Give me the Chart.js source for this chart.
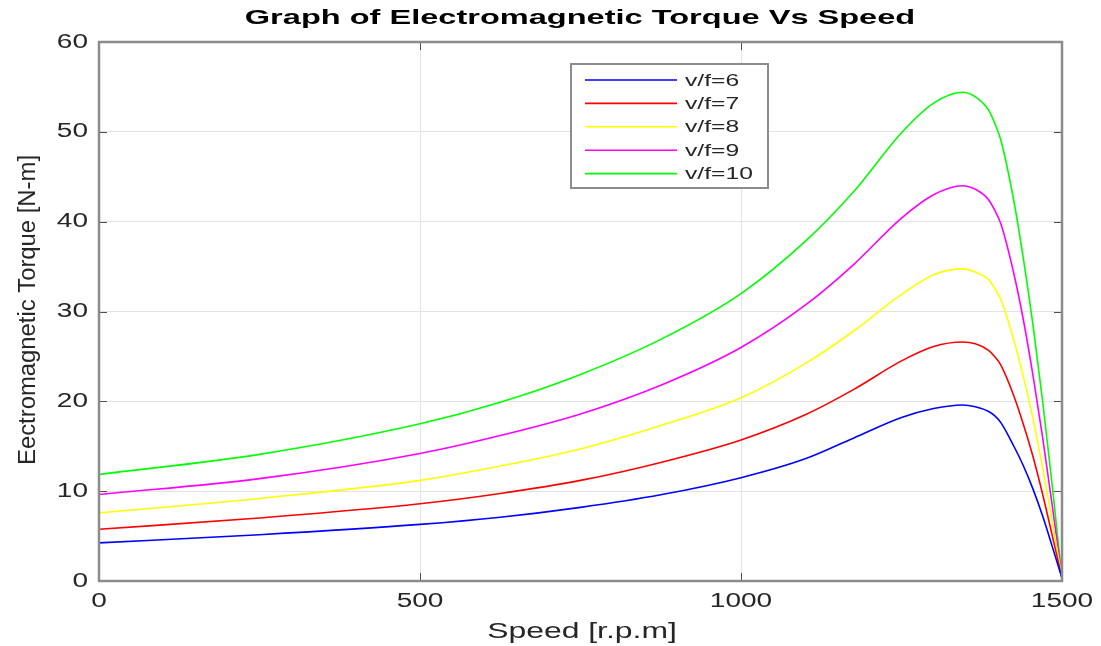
<!DOCTYPE html>
<html>
<head>
<meta charset="utf-8">
<script src="https://cdn.jsdelivr.net/npm/chart.js@4"></script>
<style>
  html, body { margin: 0; padding: 0; background: #fff; }
  canvas { display: block; }
</style>
</head>
<body>
<canvas id="torque" width="1101" height="646"></canvas>
<script>
// speed points (rpm)
const speed = [0, 250, 500, 625, 750, 875, 1000, 1100, 1175, 1250, 1300, 1345, 1365, 1385, 1395, 1405, 1425, 1440, 1455, 1470, 1485, 1500];

// torque [N-m] per v/f ratio
const vf6  = [4.24, 5.15, 6.3, 7.1, 8.2, 9.6, 11.5, 13.6, 15.9, 18.2, 19.2, 19.6, 19.4, 18.9, 18.4, 17.6, 15.0, 12.8, 10.2, 7.2, 3.8, 0.3];
const vf7  = [5.76, 7.02, 8.6, 9.74, 11.2, 13.2, 15.7, 18.5, 21.3, 24.5, 26.1, 26.6, 26.4, 25.7, 25.0, 24.0, 20.6, 17.4, 13.8, 9.6, 5.0, 0.3];
const vf8  = [7.58, 9.19, 11.2, 12.8, 14.7, 17.3, 20.4, 24.2, 27.8, 31.9, 34.1, 34.75, 34.4, 33.6, 32.6, 31.3, 26.8, 22.7, 18.0, 12.5, 6.5, 0.3];
const vf9  = [9.63, 11.4, 14.2, 16.2, 18.6, 21.8, 26.0, 30.7, 35.2, 40.4, 43.0, 44.0, 43.6, 42.5, 41.3, 39.7, 34.2, 29.0, 22.8, 15.9, 8.3, 0.3];
const vf10 = [11.86, 14.1, 17.5, 19.9, 23.0, 26.9, 32.0, 37.8, 43.3, 49.9, 53.2, 54.4, 53.9, 52.5, 51.0, 49.0, 42.3, 35.8, 28.4, 19.9, 10.5, 0.3];

const seriesNames = ['v/f=6', 'v/f=7', 'v/f=8', 'v/f=9', 'v/f=10'];
const seriesData = [vf6, vf7, vf8, vf9, vf10];
const seriesColors = ['#0000ff', '#ff0000', '#ffff00', '#ff00ff', '#00ff00'];

const xTicks = [0, 500, 1000, 1500];
const yTicks = [0, 10, 20, 30, 40, 50, 60];

const FONT = '"Liberation Sans", Arial, Helvetica, sans-serif';
const STRETCH = 1.4; // the source figure is stretched sideways

const datasets = seriesData.map((vals, i) => ({
  label: seriesNames[i],
  data: vals.map((v, j) => ({ x: speed[j], y: v })),
  borderColor: seriesColors[i],
  backgroundColor: seriesColors[i],
  borderWidth: 1.6,
  pointRadius: 0,
  cubicInterpolationMode: 'monotone',
  fill: false
}));

// text squeezed/stretched horizontally
function wideText(ctx, txt, x, y, font, sx, align) {
  ctx.save();
  ctx.font = font;
  ctx.textBaseline = 'middle';
  ctx.textAlign = 'left';
  const w = ctx.measureText(txt).width * sx;
  let x0 = x;
  if (align === 'center') x0 = x - w / 2;
  if (align === 'right') x0 = x - w;
  ctx.translate(x0, y);
  ctx.scale(sx, 1);
  ctx.fillText(txt, 0, 0);
  ctx.restore();
}

// title, axis labels, tick labels, legend box, frame + inward ticks
const decor = {
  id: 'decor',
  afterDraw(chart) {
    const ctx = chart.ctx;
    const a = chart.chartArea;
    const xs = chart.scales.x, ys = chart.scales.y;
    ctx.save();

    // inward ticks
    ctx.strokeStyle = '#4d4d4d';
    ctx.lineWidth = 1;
    xTicks.forEach(t => {
      const px = Math.round(xs.getPixelForValue(t)) + 0.5;
      ctx.beginPath();
      ctx.moveTo(px, a.bottom); ctx.lineTo(px, a.bottom - 8);
      ctx.moveTo(px, a.top); ctx.lineTo(px, a.top + 8);
      ctx.stroke();
    });
    yTicks.forEach(t => {
      const py = Math.round(ys.getPixelForValue(t)) + 0.5;
      ctx.beginPath();
      ctx.moveTo(a.left, py); ctx.lineTo(a.left + 8, py);
      ctx.moveTo(a.right, py); ctx.lineTo(a.right - 8, py);
      ctx.stroke();
    });

    // frame
    ctx.strokeStyle = '#8c8c8c';
    ctx.lineWidth = 2.5;
    ctx.strokeRect(a.left, a.top, a.right - a.left, a.bottom - a.top);

    // tick labels
    ctx.fillStyle = '#262626';
    xTicks.forEach(t => {
      wideText(ctx, String(t), xs.getPixelForValue(t), 601, '20px ' + FONT, STRETCH, 'center');
    });
    yTicks.forEach(t => {
      wideText(ctx, String(t), 88, ys.getPixelForValue(t), '20px ' + FONT, STRETCH, 'right');
    });

    // title
    ctx.fillStyle = '#000';
    wideText(ctx, 'Graph of Electromagnetic Torque Vs Speed', 580, 18, 'bold 21px ' + FONT, 1.55, 'center');

    // x label
    ctx.fillStyle = '#262626';
    wideText(ctx, 'Speed [r.p.m]', 582, 632, '22px ' + FONT, 1.45, 'center');

    // y label
    ctx.save();
    ctx.translate(28, 310);
    ctx.rotate(-Math.PI / 2);
    ctx.font = '22px ' + FONT;
    ctx.textAlign = 'center';
    ctx.textBaseline = 'middle';
    const yl = 'Eectromagnetic Torque [N-m]';
    const w = ctx.measureText(yl).width;
    ctx.scale(310 / w, 1.1);
    ctx.fillText(yl, 0, 0);
    ctx.restore();

    // legend
    const lx = 571, ly = 64, lw = 197, lh = 124;
    ctx.fillStyle = '#fff';
    ctx.fillRect(lx, ly, lw, lh);
    ctx.strokeStyle = '#8c8c8c';
    ctx.lineWidth = 2;
    ctx.strokeRect(lx, ly, lw, lh);
    chart.data.datasets.forEach((ds, i) => {
      const yy = 80 + i * 23.4;
      ctx.strokeStyle = ds.borderColor;
      ctx.lineWidth = 1.6;
      ctx.beginPath();
      ctx.moveTo(585, yy); ctx.lineTo(677, yy);
      ctx.stroke();
      ctx.fillStyle = '#262626';
      wideText(ctx, ds.label, 685, yy + 1, '17px ' + FONT, 1.45, 'left');
    });

    ctx.restore();
  }
};

new Chart(document.getElementById('torque'), {
  type: 'line',
  data: { datasets: datasets },
  options: {
    responsive: false,
    animation: false,
    layout: { padding: { top: 42, right: 39, left: 0, bottom: 0 } },
    plugins: {
      legend: { display: false },
      title: { display: false },
      tooltip: { enabled: false }
    },
    scales: {
      x: {
        type: 'linear',
        min: 0, max: 1500,
        afterBuildTicks: s => { s.ticks = xTicks.map(v => ({ value: v })); },
        afterFit: s => { s.height = 65; },
        grid: { color: '#e3e3e3', drawTicks: false },
        border: { display: false },
        ticks: { display: false }
      },
      y: {
        min: 0, max: 60,
        afterBuildTicks: s => { s.ticks = yTicks.map(v => ({ value: v })); },
        afterFit: s => { s.width = 99; },
        grid: { color: '#e3e3e3', drawTicks: false },
        border: { display: false },
        ticks: { display: false }
      }
    }
  },
  plugins: [decor]
});
</script>
</body>
</html>
